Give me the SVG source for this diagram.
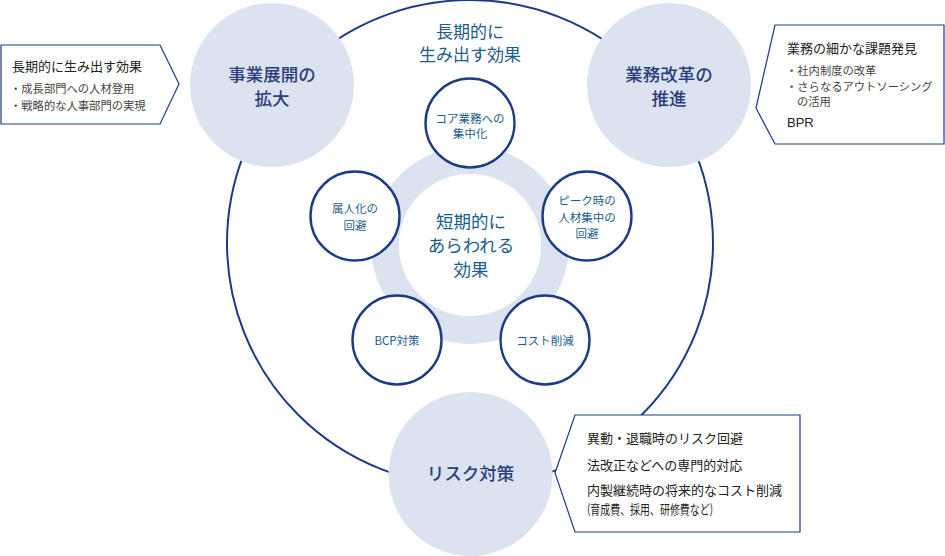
<svg xmlns="http://www.w3.org/2000/svg" width="945" height="556" viewBox="0 0 945 556">
<style>
text{font-family:"Noto Sans CJK JP","Noto Sans",sans-serif}
.big{fill:#dce3f0}
.bigt{fill:#2b3d7c;font-size:17.5px;font-weight:500;text-anchor:middle}
.teal{fill:#1b5d8c;text-anchor:middle}
.sm{fill:#fff;stroke:#1d3a87;stroke-width:2.4}
.smt{font-size:11.5px}
.call{fill:#fff;stroke:#1d3a87;stroke-width:1.2}
.ct{fill:#222;font-size:13px}
.cb{fill:#444;font-size:11.3px}
</style>
<g id="connectors">
<circle cx="470" cy="243" r="243" fill="none" stroke="#1d3a87" stroke-width="2"/>
</g>
<g id="node-jigyo">
<circle class="big" cx="272" cy="85" r="82"/>
<text class="bigt" x="272" y="81">事業展開の</text>
<text class="bigt" x="272" y="105">拡大</text>
</g>
<g id="node-gyomu">
<circle class="big" cx="669" cy="85" r="82"/>
<text class="bigt" x="669" y="81">業務改革の</text>
<text class="bigt" x="669" y="105">推進</text>
</g>
<g id="node-risk">
<circle class="big" cx="470.5" cy="474" r="82"/>
<text class="bigt" x="470.5" y="480">リスク対策</text>
</g>
<g id="label-long">
<text class="teal" x="470" y="38" font-size="17">長期的に</text>
<text class="teal" x="470" y="61" font-size="17">生み出す効果</text>
</g>
<g id="node-short">
<circle cx="470" cy="245" r="85" fill="none" stroke="#dce3f0" stroke-width="28"/>
<text class="teal" x="471" y="228" font-size="17.5">短期的に</text>
<text class="teal" x="471" y="252" font-size="17.5">あらわれる</text>
<text class="teal" x="471" y="276" font-size="17.5">効果</text>
</g>
<g id="node-core">
<circle class="sm" cx="470" cy="123" r="44.5"/>
<text class="teal smt" x="470" y="123">コア業務への</text>
<text class="teal smt" x="470" y="138">集中化</text>
</g>
<g id="node-zokujin">
<circle class="sm" cx="355" cy="216" r="44.5"/>
<text class="teal smt" x="355" y="213">属人化の</text>
<text class="teal smt" x="355" y="230">回避</text>
</g>
<g id="node-peak">
<circle class="sm" cx="587" cy="216" r="44.5"/>
<text class="teal smt" x="587" y="205">ピーク時の</text>
<text class="teal smt" x="587" y="222">人材集中の</text>
<text class="teal smt" x="587" y="238">回避</text>
</g>
<g id="node-bcp">
<circle class="sm" cx="397" cy="340" r="44.5"/>
<text class="teal smt" x="397" y="345">BCP対策</text>
</g>
<g id="node-cost">
<circle class="sm" cx="545" cy="340" r="44.5"/>
<text class="teal smt" x="545" y="345">コスト削減</text>
</g>
<g id="callout-left">
<polygon class="call" points="1,45 160,45 179,84 160,124 1,124"/>
<text class="ct" x="12" y="71">長期的に生み出す効果</text>
<text class="cb" x="10" y="93">・成長部門への人材登用</text>
<text class="cb" x="10" y="110">・戦略的な人事部門の実現</text>
</g>
<g id="callout-right">
<polygon class="call" points="775,25 944,25 944,144 775,144 756,108"/>
<text class="ct" x="787" y="53">業務の細かな課題発見</text>
<text class="cb" x="786" y="75">・社内制度の改革</text>
<text class="cb" x="786" y="91" font-size="11">・さらなるアウトソーシング</text>
<text class="cb" x="797" y="106" font-size="11">の活用</text>
<text class="ct" x="787" y="127" font-size="14.5" style="font-family:'Liberation Sans',Arial,sans-serif">BPR</text>
</g>
<g id="callout-bottom">
<polygon class="call" points="575,415 800,415 800,532 575,532 555,473"/>
<text class="ct" x="587" y="443">異動・退職時のリスク回避</text>
<text class="ct" x="587" y="470">法改正などへの専門的対応</text>
<text class="ct" x="587" y="495">内製継続時の将来的なコスト削減</text>
<text class="ct" x="587" y="514" font-size="9.5" textLength="126" lengthAdjust="spacingAndGlyphs">(育成費、採用、研修費など)</text>
</g>
</svg>
